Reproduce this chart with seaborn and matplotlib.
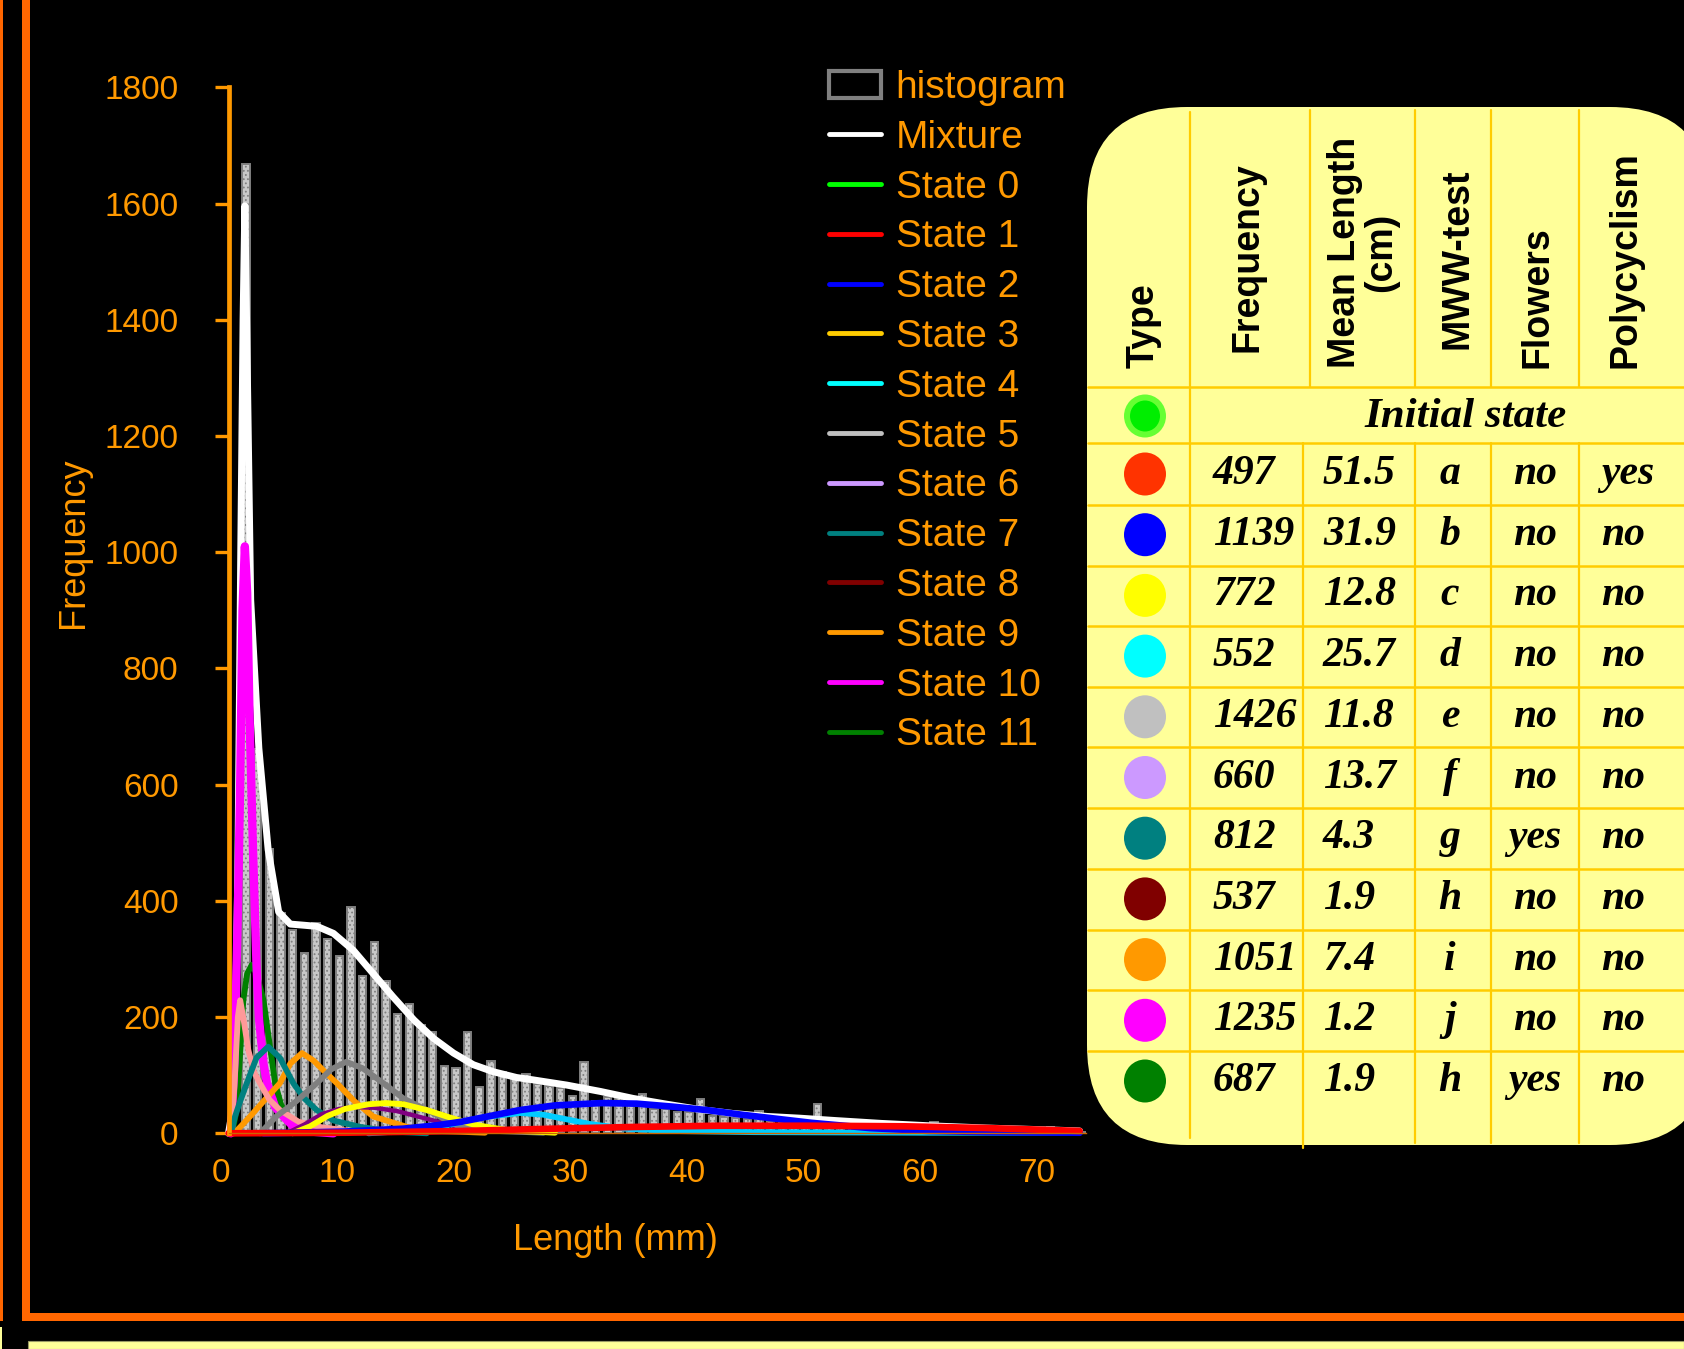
import numpy as np
import pandas as pd
import matplotlib
matplotlib.use('Agg')
import matplotlib.pyplot as plt
import matplotlib.transforms as mtransforms
from matplotlib.patches import Rectangle, FancyBboxPatch, Ellipse, Patch
from matplotlib.lines import Line2D
import seaborn as sns

# ---- histogram: counts per 1 mm bin (0-74 mm) ----
bin_left = np.arange(0, 74)
counts = [0, 1668, 662, 490, 379, 350, 310, 362, 334, 305,
          389, 271, 330, 262, 205, 222, 186, 175, 115, 113,
          175, 79, 124, 105, 95, 102, 84, 81, 78, 64,
          123, 55, 62, 60, 55, 67, 41, 41, 37, 36,
          59, 29, 28, 27, 24, 39, 22, 20, 30, 18,
          50, 22, 15, 22, 12, 16, 16, 16, 10, 8,
          19, 8, 6, 5, 6, 4, 5, 3, 4, 3,
          11, 3, 2, 3]

# ---- fitted curves ----
mix_x = [0, 0.5, 0.8, 1.05, 1.25, 1.4, 1.6, 1.9, 2.6, 3.4, 4.3, 5.3, 6.5, 7.6, 9.0, 10.7, 12.4,
         14.1, 15.9, 17.6, 19.3, 21.0, 22.7, 24.7, 26.1, 29.0, 31.9, 34.7, 37.6, 40.4, 43.3,
         46.2, 49.0, 52, 56, 60, 65, 70, 73]
mix_y = [0, 60, 450, 1000, 1400, 1596, 1330, 918, 663, 488, 381, 360, 358, 356, 344, 315, 275,
         235, 195, 163, 138, 118, 106, 96, 92, 83, 72, 60, 50, 41, 34,
         29, 26, 22, 17, 13, 9, 6, 4]

s1_x = [0, 10, 20, 28, 35, 42, 50, 58, 65, 70, 73]
s1_y = [0, 1, 4, 8, 11, 13, 13, 12, 9, 6, 4]

s2_x = [3, 10, 15, 18, 20, 23, 25, 28, 32, 35, 38, 41, 44, 47, 50, 55, 60, 65, 73]
s2_y = [0, 3, 8, 14, 20, 32, 40, 48, 52, 51, 46, 40, 32, 25, 18, 9, 4, 2, 1]

s3_x = [5.5, 7.0, 8.5, 10, 12, 13.5, 15, 17, 18.7, 21, 24, 28]
s3_y = [0, 12, 30, 42, 50, 52, 50, 40, 29, 15, 5, 1]

s4_x = [12, 16, 19, 22, 25, 27, 29, 31, 34, 38, 45, 60, 73]
s4_y = [0, 5, 15, 28, 35, 32, 24, 16, 8, 4, 2, 1, 1]

s5_x = [2.7, 4.1, 5.8, 7.56, 8.8, 10.1, 11.5, 13.3, 15, 17, 19.85, 23, 27]
s5_y = [0, 29, 55, 86, 110, 123, 112, 86, 60, 40, 11, 4, 1]

s6_x = [5, 6.5, 8, 9.5, 11, 12.5, 14.5, 17, 19.5, 22, 26]
s6_y = [0, 15, 33, 42, 45, 44, 38, 25, 12, 5, 1]

s7_x = [0.2, 0.56, 1.0, 1.56, 2.4, 3.4, 4.4, 5.56, 6.5, 7.56, 9, 11.3, 14, 17]
s7_y = [0, 29, 55, 86, 130, 149, 130, 86, 60, 40, 22, 11, 3, 0]

s8_x = [0.2, 0.5, 0.8, 1.0, 1.3, 1.7, 2.2, 2.7, 3.5, 4.4, 6, 7.8, 10, 14]
s8_y = [0, 80, 200, 229, 195, 143, 105, 86, 58, 40, 20, 11, 5, 2]

s9_x = [0.5, 1.85, 3.0, 4.4, 5.3, 6.3, 7.3, 8.3, 9.3, 10.8, 12.4, 15.3, 18, 22]
s9_y = [0, 29, 55, 86, 120, 138, 125, 105, 86, 55, 29, 11, 4, 1]

s10_x = [0.2, 0.5, 0.8, 1.0, 1.2, 1.4, 1.6, 1.8, 2.1, 2.4, 2.6, 3.0, 3.3, 4.0, 4.7, 5.6, 7.0, 9]
s10_y = [0, 120, 380, 600, 900, 1010, 930, 720, 488, 290, 200, 120, 86, 45, 29, 11, 3, 0]

s11_x = [0.3, 0.6, 0.84, 1.27, 1.6, 2.0, 2.4, 3.0, 3.6, 4.0, 4.5, 5.0, 6.1, 7.5]
s11_y = [0, 30, 86, 229, 275, 290, 275, 229, 143, 86, 50, 29, 9, 2]

legend_colors = ['#00FF00', '#FF0000', '#0000FF', '#FFCC00', '#00FFFF', '#C0C0C0',
                 '#CC99FF', '#008080', '#800000', '#FF9900', '#FF00FF', '#008000']

# ---- table ----
type_colors = ['#FF3300', '#0000FF', '#FFFF00', '#00FFFF', '#C0C0C0', '#CC99FF',
               '#008080', '#800000', '#FF9900', '#FF00FF', '#008000']
frequency = ['497', '1139', '772', '552', '1426', '660', '812', '537', '1051', '1235', '687']
mean_length = ['51.5', '31.9', '12.8', '25.7', '11.8', '13.7', '4.3', '1.9', '7.4', '1.2', '1.9']
mww_test = ['a', 'b', 'c', 'd', 'e', 'f', 'g', 'h', 'i', 'j', 'h']
flowers = ['no', 'no', 'no', 'no', 'no', 'no', 'yes', 'no', 'no', 'no', 'yes']
polycyclism = ['yes', 'no', 'no', 'no', 'no', 'no', 'no', 'no', 'no', 'no', 'no']
headers = ['Type', 'Frequency', 'Mean Length\n(cm)', 'MWW-test', 'Flowers', 'Polycyclism']

sns.set_theme(style='ticks')
plt.rcParams['font.family'] = ['Liberation Sans', 'DejaVu Sans']
plt.rcParams['hatch.linewidth'] = 0.8

ORANGE = '#FF9900'
FRAME = '#FF6600'

fig = plt.figure(figsize=(16.84, 13.49), dpi=100, facecolor='black')

# overlay in pixel units for frame and table
ov = fig.add_axes([0, 0, 1, 1])
ov.set_xlim(0, 1684)
ov.set_ylim(1349, 0)
ov.axis('off')

ax = fig.add_axes([0.1357, 0.1599, 0.5089, 0.7754])
ax.set_facecolor('black')

hist_df = pd.DataFrame({'length': bin_left + 0.5, 'count': counts})
sns.histplot(data=hist_df, x='length', weights='count', binwidth=1, binrange=(0, 74),
             shrink=0.63, color='#C8C8C8', edgecolor='#808080', linewidth=1.4, alpha=1,
             hatch='....', ax=ax)

curves = [
    (mix_x, mix_y, '#FFFFFF', 5.0),
    (s11_x, s11_y, '#008000', 4.2),
    (s10_x, s10_y, '#FF00FF', 6.0),
    (s9_x, s9_y, '#FF9900', 4.2),
    (s8_x, s8_y, '#FF9999', 4.2),
    (s7_x, s7_y, '#008080', 4.2),
    (s6_x, s6_y, '#800080', 3.2),
    (s5_x, s5_y, '#808080', 4.2),
    (s4_x, s4_y, '#00CCFF', 4.2),
    (s3_x, s3_y, '#FFFF00', 4.2),
    (s2_x, s2_y, '#0000FF', 4.8),
    (s1_x, s1_y, '#FF0000', 4.8),
]
for xs, ys, c, lw in curves:
    sns.lineplot(x=xs, y=ys, color=c, lw=lw, ax=ax, clip_on=False,
                 solid_joinstyle='round', solid_capstyle='round')

ax.set_xlim(0, 73.5)
ax.set_ylim(0, 1800)
ax.set_yticks(np.arange(0, 1801, 200))
ax.set_xticks(np.arange(0, 71, 10))
ax.set_xticks([20, 40, 60], minor=True)
ax.tick_params(axis='y', colors=ORANGE, labelsize=24, length=10, width=2.4, pad=26)
ax.tick_params(axis='x', which='major', colors=ORANGE, labelsize=24, length=0, pad=18)
ax.tick_params(axis='x', which='minor', colors=ORANGE, length=6, width=3)
shift = mtransforms.ScaledTranslation(-0.08, 0, fig.dpi_scale_trans)
for lab in ax.get_xticklabels():
    lab.set_transform(lab.get_transform() + shift)
for s in ['top', 'right']:
    ax.spines[s].set_visible(False)
ax.spines['left'].set_color(ORANGE)
ax.spines['left'].set_linewidth(3.4)
ax.spines['left'].set_bounds(0, 1800)
ax.spines['bottom'].set_color('#CC6600')
ax.spines['bottom'].set_linewidth(1)

ax.set_xlabel('Length (mm)', color=ORANGE, fontsize=26)
ax.xaxis.set_label_coords(0.451, -0.086)
ax.set_ylabel('Frequency', color=ORANGE, fontsize=26)
ax.yaxis.set_label_coords(-0.160, 0.565)

handles = [Patch(facecolor='black', edgecolor='#808080', lw=3),
           Line2D([], [], color='white', lw=3.5)]
handles += [Line2D([], [], color=c, lw=3.5) for c in legend_colors]
labels = ['histogram', 'Mixture'] + ['State %d' % i for i in range(12)]
ax.legend(handles, labels, loc='upper left', bbox_to_anchor=(829 / 1684, 1 - 70 / 1349),
          bbox_transform=fig.transFigure, frameon=False, fontsize=28, labelcolor=ORANGE,
          handlelength=1.33, handletextpad=0.38, labelspacing=0.355, borderpad=0,
          borderaxespad=0)

# ---- frame ----
ov.add_patch(Rectangle((0, 0), 3.3, 1321, color=FRAME, lw=0))
ov.add_patch(Rectangle((22, 0), 8, 1321, color=FRAME, lw=0))
ov.add_patch(Rectangle((22, 1313), 1662, 8, color=FRAME, lw=0))
ov.add_patch(Rectangle((28, 1341), 1656, 8, fc='#FFFF99', ec='#999966', lw=0.8))
ov.add_patch(Rectangle((0, 1327), 2, 22, color='#FFFF99', lw=0))

# ---- table ----
YEL = '#FFCC00'
ov.add_patch(FancyBboxPatch((1087, 107), 1710 - 1087, 1145 - 107,
                            boxstyle='round,pad=0,rounding_size=100',
                            fc='#FFFF99', ec='none'))
ov.plot([1190, 1190], [112, 1138], color=YEL, lw=1.6)
for x in [1310, 1415, 1491, 1579]:
    ov.plot([x, x], [110, 387], color=YEL, lw=1.6)
for x in [1303, 1415, 1491, 1579]:
    ov.plot([x, x], [443, 1148 if x == 1303 else 1143], color=YEL, lw=1.6)
row_lines = [387, 443, 505, 566, 626, 687, 747, 808, 869, 930, 990, 1051]
for y in row_lines:
    ov.plot([1088, 1684], [y, y], color=YEL, lw=1.8)

head_x = [1144, 1248, 1363, 1457, 1538, 1625]
head_bottom = [368, 352, 368, 349, 368, 368]
for hx, hb, h in zip(head_x, head_bottom, headers):
    ov.text(hx, hb, h, rotation=90, ha='center', va='bottom', multialignment='center',
            fontsize=27, fontweight='bold', color='black', linespacing=1.0)

script = dict(family=['Liberation Serif', 'DejaVu Serif'], style='italic',
              fontweight='bold', color='black')
ov.add_patch(Ellipse((1145, 416), 42, 43, color='#66FF33', lw=0))
ov.add_patch(Ellipse((1145, 416), 30, 31, color='#00EE00', lw=0))
ov.text(1466, 417, 'Initial state', ha='center', va='center', fontsize=31, **script)

for i in range(len(frequency)):
    yc = 474 + 60.7 * i
    ov.add_patch(Ellipse((1145, yc), 42, 43, color=type_colors[i], lw=0))
    ov.text(1213, yc, frequency[i], ha='left', va='center', fontsize=30, **script)
    ov.text(1323, yc, mean_length[i], ha='left', va='center', fontsize=30, **script)
    ov.text(1450, yc, mww_test[i], ha='center', va='center', fontsize=30, **script)
    ov.text(1535, yc, flowers[i], ha='center', va='center', fontsize=30, **script)
    ov.text(1601, yc, polycyclism[i], ha='left', va='center', fontsize=30, **script)

fig.savefig('out.png', dpi=100, facecolor='black')
